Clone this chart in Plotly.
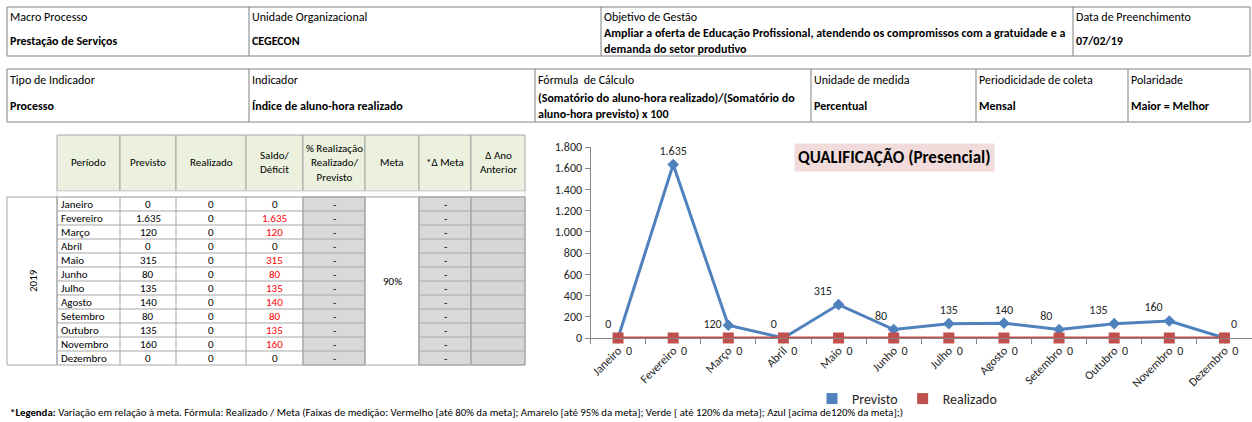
import plotly.graph_objects as go

W, H = 1252, 422
FONTE = "Carlito, Lato, sans-serif"

# cabecalho
cab1_titulos = ["Macro Processo", "Unidade Organizacional", "Objetivo de Gestão", "Data de Preenchimento"]
cab1_valores = ["Prestação de Serviços", "CEGECON",
                "Ampliar a oferta de Educação Profissional, atendendo os compromissos com a gratuidade e a<br>demanda do setor produtivo",
                "07/02/19"]
cab2_titulos = ["Tipo de Indicador", "Indicador", "Fórmula  de Cálculo", "Unidade de medida",
                "Periodicidade de coleta", "Polaridade"]
cab2_valores = ["Processo", "Índice de aluno-hora realizado",
                "(Somatório do aluno-hora realizado)/(Somatório do<br>aluno-hora previsto) x 100",
                "Percentual", "Mensal", "Maior = Melhor"]

# tabela mensal
ano = "2019"
colunas = ["Período", "Previsto", "Realizado", "Saldo/<br>Déficit", "% Realização<br>Realizado/<br>Previsto",
           "Meta", "*Δ Meta", "Δ Ano<br>Anterior"]
meses = ["Janeiro", "Fevereiro", "Março", "Abril", "Maio", "Junho", "Julho", "Agosto",
         "Setembro", "Outubro", "Novembro", "Dezembro"]
previsto = [0, 1635, 120, 0, 315, 80, 135, 140, 80, 135, 160, 0]
realizado = [0, 0, 0, 0, 0, 0, 0, 0, 0, 0, 0, 0]
meta = "90%"

titulo = "QUALIFICAÇÃO (Presencial)"
legenda_txt = ("<b>*Legenda:</b> Variação em relação à meta. Fórmula: Realizado / Meta (Faixas de medição: "
               "Vermelho [até 80% da meta]; Amarelo [até 95% da meta]; Verde [ até 120% da meta]; "
               "Azul [acima de120% da meta];)")

AZUL = "#4F81BD"
VERMELHO = "#C0504D"


def X(p):
    return p / W


def Y(p):
    return 1 - p / H


def fmt(v):
    return f"{v:,}".replace(",", ".")


shapes, annots = [], []


def linha(x0, y0, x1, y1, cor="#808080"):
    shapes.append(dict(type="line", xref="paper", yref="paper", x0=X(x0), y0=Y(y0), x1=X(x1), y1=Y(y1),
                       line=dict(color=cor, width=1)))


def caixa(x0, y0, x1, y1, fill, cor="#A6A6A6"):
    shapes.append(dict(type="rect", xref="paper", yref="paper", x0=X(x0), y0=Y(y0), x1=X(x1), y1=Y(y1),
                       fillcolor=fill, line=dict(color=cor, width=1), layer="below"))


def texto(t, x, y, size=11, cor="black", xa="left", **kw):
    annots.append(dict(text=t, x=X(x), y=Y(y), xref="paper", yref="paper", showarrow=False,
                       xanchor=xa, yanchor="middle", font=dict(size=size, color=cor, family=FONTE), **kw))


# 1) blocos de cabecalho
def bloco(xs, y0, y1, titulos, valores, y_tit, y_val):
    caixa(xs[0], y0, xs[-1], y1, "white", "#808080")
    for xv in xs[1:-1]:
        linha(xv, y0, xv, y1)
    for i, (t, v) in enumerate(zip(titulos, valores)):
        texto(t, xs[i] + 1, y_tit, size=12)
        texto(f"<b>{v}</b>", xs[i] + 1, y_val, size=12, align="left")


bloco([7, 249, 601, 1073, 1250], 7, 56, cab1_titulos, cab1_valores, 17, 41)
bloco([7, 249, 535, 811, 976, 1128, 1250], 69, 122, cab2_titulos, cab2_valores, 80, 106)

# 2) tabela mensal
tx = [57, 120, 176, 246, 303, 365, 419, 471, 525]
top, hdr_b, dados_t, alt = 135, 191, 197, 14
dados_b = dados_t + alt * len(meses)

for i, c in enumerate(colunas):
    caixa(tx[i], top, tx[i + 1], hdr_b, "#EBF1DE")
    texto(c, (tx[i] + tx[i + 1]) / 2, (top + hdr_b) / 2, size=11, xa="center")
caixa(tx[0], hdr_b, tx[-1], dados_t, "white", "#D9D9D9")
caixa(7, dados_t, tx[0], dados_b, "white")
texto(ano, 33, (dados_t + dados_b) / 2, size=11, xa="center", textangle=-90)
caixa(tx[4], dados_t, tx[5], dados_b, "#D9D9D9")
caixa(tx[5], dados_t, tx[6], dados_b, "white")
caixa(tx[6], dados_t, tx[7], dados_b, "#D9D9D9")
caixa(tx[7], dados_t, tx[8], dados_b, "#D6D6D6")
texto(meta, (tx[5] + tx[6]) / 2, (dados_t + dados_b) / 2, size=11, xa="center")

for xv in tx:
    linha(xv, dados_t, xv, dados_b, "#A6A6A6")
for k in range(len(meses) + 1):
    yk = dados_t + alt * k
    linha(tx[0], yk, tx[5], yk, "#A6A6A6")
    linha(tx[6], yk, tx[8], yk, "#A6A6A6")

for k, (m, p, r) in enumerate(zip(meses, previsto, realizado)):
    yc = dados_t + alt * k + alt / 2
    saldo = p - r
    texto(m, tx[0] + 2, yc, size=11)
    texto(fmt(p), (tx[1] + tx[2]) / 2, yc, size=11, xa="center")
    texto(fmt(r), (tx[2] + tx[3]) / 2, yc, size=11, xa="center")
    texto(fmt(saldo), (tx[3] + tx[4]) / 2, yc, size=11, xa="center", cor="#FF0000" if saldo else "black")
    texto("-", (tx[4] + tx[5]) / 2, yc, size=11, xa="center")
    texto("-", (tx[6] + tx[7]) / 2, yc, size=11, xa="center")

# 3) grafico
pos_prev = ["top left", "top center", "middle left", "top left", "top left", "top left",
            "top center", "top center", "top left", "top left", "top left", "top right"]

fig = go.Figure()
fig.add_trace(go.Scatter(
    x=meses, y=previsto, mode="lines+markers+text", text=[fmt(v) for v in previsto],
    textposition=pos_prev, textfont=dict(size=12, color="#262626"),
    line=dict(color=AZUL, width=3), marker=dict(symbol="diamond", size=9, color=AZUL),
    showlegend=False, cliponaxis=False))
fig.add_trace(go.Scatter(
    x=meses, y=realizado, mode="lines+markers+text", text=[fmt(v) for v in realizado],
    textposition="bottom right", textfont=dict(size=12, color="#262626"),
    line=dict(color=VERMELHO, width=3), marker=dict(symbol="square", size=11, color=VERMELHO),
    showlegend=False, cliponaxis=False))
# itens da legenda (quadrado como no Excel)
for nome, cor in [("Previsto", AZUL), ("Realizado", VERMELHO)]:
    fig.add_trace(go.Scatter(x=[None], y=[None], mode="markers", name=nome,
                             marker=dict(symbol="square", size=11, color=cor)))

texto(f"<b>{titulo}</b>", 894, 157, size=17, xa="center", bgcolor="#F2DCDB", borderpad=3)
texto(legenda_txt, 8, 412, size=10.8)

fig.update_xaxes(
    type="category", range=[-0.5, 11.5], domain=[X(590.5), 1], tickangle=-45, automargin=False,
    tickson="boundaries", ticks="outside", ticklen=5, tickcolor="#868686",
    showline=True, linecolor="#868686", showgrid=False, zeroline=False,
    tickfont=dict(size=12, color="#262626", family=FONTE))
fig.update_yaxes(
    range=[0, 1800], dtick=200, domain=[Y(338), Y(147)], tickformat=",d", automargin=False,
    ticks="outside", ticklen=5, tickcolor="#868686", showline=True, linecolor="#868686",
    showgrid=False, zeroline=False, tickfont=dict(size=12, color="#262626", family=FONTE))

fig.update_layout(
    width=W, height=H, margin=dict(l=0, r=0, t=0, b=0, autoexpand=False),
    paper_bgcolor="white", plot_bgcolor="white",
    separators=",.", font=dict(family=FONTE),
    shapes=shapes, annotations=annots,
    legend=dict(orientation="h", x=X(812), y=Y(399), xanchor="left", yanchor="middle",
                font=dict(size=14, color="#262626", family=FONTE), itemwidth=30,
                bgcolor="rgba(0,0,0,0)"),
)

# sem a margem padrao do <body>, a figura fica colada no canto da janela
fig.write_html("out.html", config={"displayModeBar": False},
               post_script="document.body.style.margin='0';")
